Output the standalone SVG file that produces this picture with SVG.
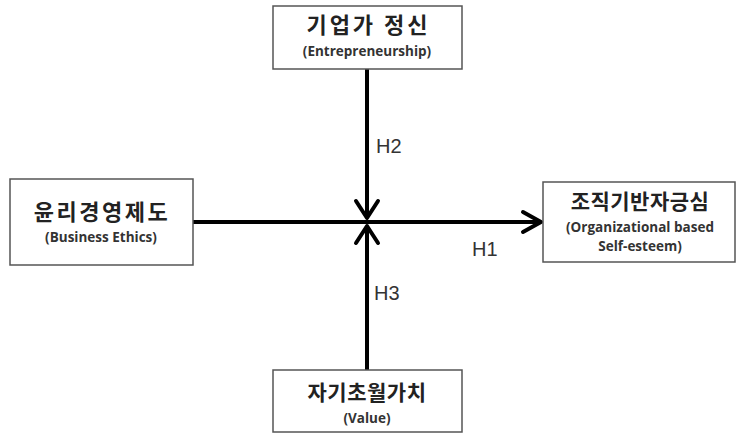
<svg xmlns="http://www.w3.org/2000/svg" width="742" height="434" viewBox="0 0 742 434">
<style>
.box{fill:#fff;stroke:#555;stroke-width:1.5}
.ko{font-family:"Noto Sans CJK KR","Noto Sans",sans-serif;font-weight:700;fill:#222;text-anchor:middle}
.en{font-family:"Open Sans","Noto Sans",sans-serif;font-weight:700;fill:#333;text-anchor:middle;font-size:13.5px}
.lbl{font-family:"Liberation Sans",Arial,sans-serif;fill:#333;font-size:20px}
.ln{stroke:#000;stroke-width:4;fill:none}
.hd{stroke:#000;stroke-width:4;fill:none;stroke-linecap:round;stroke-linejoin:round}
</style>
<g id="connectors">
<line class="ln" x1="193" y1="222" x2="540" y2="222"/>
<polyline class="hd" points="523,212 541,222 523,232"/>
<line class="ln" x1="367" y1="69" x2="367" y2="218"/>
<polyline class="hd" points="356,201 367,218 378,201"/>
<line class="ln" x1="367" y1="370" x2="367" y2="226"/>
<polyline class="hd" points="356,243 367,226 378,243"/>
</g>
<g id="labels">
<text class="lbl" x="376" y="153">H2</text>
<text class="lbl" x="472" y="256">H1</text>
<text class="lbl" x="374" y="300">H3</text>
</g>
<g id="entrepreneurship">
<rect class="box" x="273" y="6" width="189" height="63"/>
<text class="ko" x="368.5" y="33" font-size="22" letter-spacing="3">기업가 정신</text>
<text class="en" x="367" y="56">(Entrepreneurship)</text>
</g>
<g id="business-ethics">
<rect class="box" x="10" y="179" width="183" height="86"/>
<text class="ko" x="102" y="220" font-size="22" letter-spacing="2.5">윤리경영제도</text>
<text class="en" x="101" y="242" font-size="13">(Business Ethics)</text>
</g>
<g id="self-esteem">
<rect class="box" x="543" y="182" width="192" height="80"/>
<text class="ko" x="640" y="209" font-size="21" letter-spacing="0.5">조직기반자긍심</text>
<text class="en" x="640" y="232" font-size="14">(Organizational based</text>
<text class="en" x="640" y="251" font-size="14">Self-esteem)</text>
</g>
<g id="value">
<rect class="box" x="273" y="370" width="189" height="62"/>
<text class="ko" x="367" y="400" font-size="21" letter-spacing="0.5">자기초월가치</text>
<text class="en" x="367" y="423">(Value)</text>
</g>
</svg>
